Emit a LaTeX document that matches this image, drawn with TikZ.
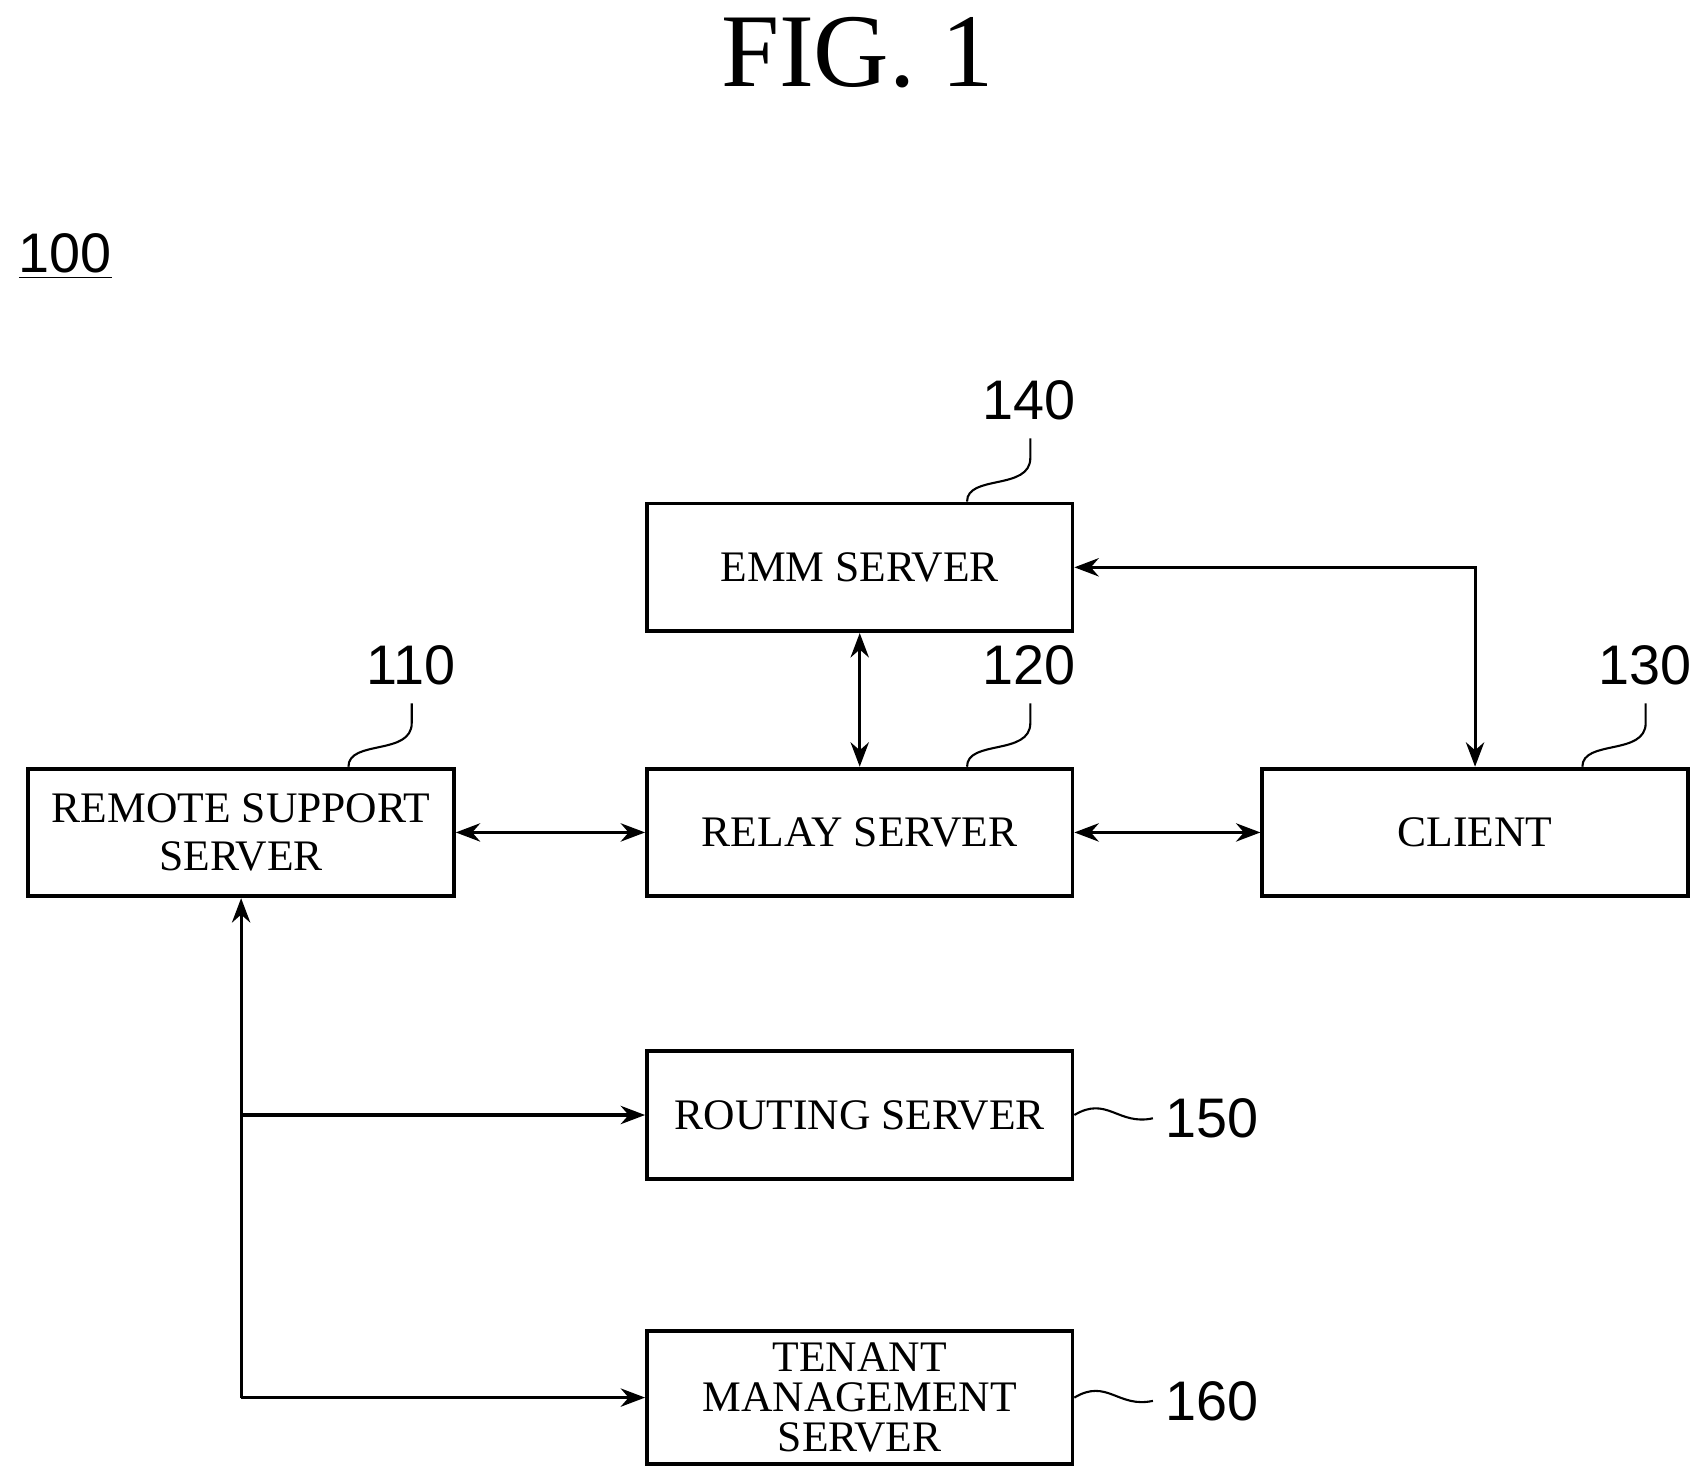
\documentclass[tikz,border=0pt]{standalone}
\usepackage{fontspec}
\setmainfont{Liberation Serif}
\newfontfamily\numfont{Liberation Sans}
\usetikzlibrary{positioning, calc, arrows.meta}

\begin{document}
\begin{tikzpicture}
        [
            x=0.011cm, y=-0.011cm,
            box/.style={rectangle, draw, line width=1.1pt, minimum width=4.29cm,
                        minimum height=1.287cm, align=center, font=\fontsize{12.5}{14}\selectfont},
            ref/.style={font=\numfont\fontsize{16}{16}\selectfont},
            link/.style={line width=0.9pt, {Stealth[length=7pt]}-{Stealth[length=7pt]}},
            one/.style={line width=0.9pt, -{Stealth[length=7pt]}},
            squig/.style={line width=0.6pt}
        ]
        \useasboundingbox (0,0) rectangle (1560,1354);
        \node (fig) at (786,48) {\fontsize{30}{30}\selectfont FIG. 1};
        \node (sys) [ref] at (60,235) {\underline{100}};
        \node (emm) [box] at (788,520) {EMM SERVER};
        \node (relay) [box] at (788,763) {RELAY SERVER};
        \node (remote) [box] at (221,763) {REMOTE SUPPORT\\SERVER};
        \node (client) [box] at (1352,763) {CLIENT};
        \node (routing) [box] at (788,1022) {ROUTING SERVER};
        \node (tenant) [box, font=\fontsize{12.5}{11.5}\selectfont] at (788,1281) {TENANT\\MANAGEMENT\\SERVER};
        % reference numerals
        \foreach \n/\t in {emm/140, relay/120, remote/110, client/130}
        {
            \coordinate (\n-s) at ($(\n.north west)!0.75!(\n.north east)$);
            \node (\n-ref) [ref] at ($(\n-s)+(57,-93)$) {\t};
            \draw [squig] (\n-s) .. controls ($(\n-s)+(0,-25)$) and ($(\n-s)+(58,-10)$)
                .. ($(\n-s)+(58,-40)$) -- ($(\n-s)+(58,-58)$);
        }
        \foreach \n/\t in {routing/150, tenant/160}
        {
            \node (\n-ref) [ref, anchor=west] at ($(\n.east)+(72,3)$) {\t};
            \draw [squig] (\n.east) .. controls ($(\n.east)+(30,-18)$) and ($(\n.east)+(40,10)$)
                .. (\n-ref.west);
        }
        % connectors
        \draw [link] (emm.south) -- (relay.north);
        \draw [link] (remote.east) -- (relay.west);
        \draw [link] (relay.east) -- (client.west);
        \draw [link] (emm.east) -| (client.north);
        \coordinate (knee) at (remote.south |- tenant.west);
        \draw [one] (knee) -- (remote.south);
        \draw [one] (knee) -- (tenant.west);
        \draw [one] (remote.south |- routing.west) -- (routing.west);
    \end{tikzpicture}
\end{document}
